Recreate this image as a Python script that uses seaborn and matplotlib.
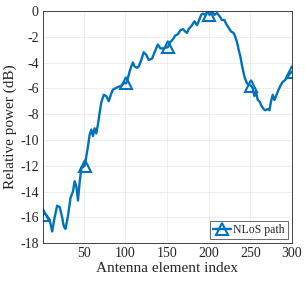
import numpy as np
import pandas as pd
import seaborn as sns
import matplotlib
matplotlib.use('Agg')
import matplotlib.pyplot as plt

# values (element index, relative power in dB)
element_index = [1, 3, 6, 9, 12, 15, 18, 21, 24, 26, 28, 31, 34, 37, 39, 41, 43, 45, 47, 49,
                 51, 53, 55, 57, 59, 61, 63, 65, 67, 69, 71, 74, 77, 80, 83, 85, 88, 91, 95, 98,
                 101, 103, 105, 107, 109, 111, 114, 116, 119, 122, 125, 128, 132, 135, 139, 142, 146,
                 151, 154, 157, 160, 163, 166, 169, 172, 174, 176, 180, 183, 186, 188, 191, 193, 196, 199,
                 201, 203, 205, 207, 210, 213, 216, 219, 221, 224, 227, 230, 232, 234, 236, 238, 240, 243,
                 246, 248, 251, 253, 255, 257, 259, 261, 263, 266, 268, 271, 273, 275, 277, 279, 281, 284,
                 287, 289, 292, 295, 297, 300]
power_db = [-15.8, -15.7, -15.9, -16.2, -17.1, -16.0, -15.1, -15.2, -16.0, -16.7, -16.9, -15.9, -14.5,
            -14.0, -13.2, -13.6, -14.7, -13.3, -12.2, -12.1,
            -12.0, -11.3, -10.5, -9.6, -9.2, -9.7, -9.1, -9.5, -8.8, -7.9, -7.1, -6.5, -6.6, -7.0, -6.4,
            -6.1, -6.0, -5.9, -5.8, -5.6,
            -5.6, -5.2, -4.7, -4.3, -4.0, -4.3, -4.4, -4.3, -3.8, -3.2, -3.4, -3.8, -3.7, -3.2, -2.6,
            -2.9, -2.9,
            -2.8, -2.4, -2.2, -1.9, -1.8, -1.5, -1.4, -1.6, -1.7, -1.4, -1.1, -0.8, -1.1, -0.8, -0.3,
            -0.2, -0.3, 0.0,
            -0.3, -0.2, -0.1, -0.3, -0.15, -0.4, -0.7, -0.7, -1.0, -1.3, -1.6, -1.7, -2.0, -2.4, -3.0,
            -3.5, -4.2, -5.1,
            -5.6, -5.7, -5.8, -6.0, -6.6, -6.3, -6.9, -7.0, -7.3, -7.6, -7.7, -7.6, -7.7, -7.0, -6.5,
            -6.9, -6.6, -6.1,
            -5.7, -5.5, -5.35, -5.1, -4.9, -4.7]
marker_index = [1, 51, 101, 151, 201, 251, 300]
x_ticks = [50, 100, 150, 200, 250, 300]
y_ticks = [0, -2, -4, -6, -8, -10, -12, -14, -16, -18]

df = pd.DataFrame({'idx': element_index, 'power': power_db})
mark_pos = [element_index.index(m) for m in marker_index]

sns.set_style('whitegrid')
plt.rcParams['font.family'] = ['Liberation Serif', 'DejaVu Serif']
plt.rcParams['axes.unicode_minus'] = False

fig = plt.figure(figsize=(3.05, 2.82), dpi=100)
ax = fig.add_axes([0.141, 0.138, 0.816, 0.823])

sns.lineplot(data=df, x='idx', y='power', ax=ax, color='#0072BD', linewidth=1.7,
             marker='^', markevery=mark_pos, markersize=8, markerfacecolor='none',
             markeredgecolor='#0072BD', markeredgewidth=1.5, label='NLoS path')

ax.set_xlim(1, 300)
ax.set_ylim(-18, 0)
ax.set_xticks(x_ticks)
ax.set_yticks(y_ticks)
ax.grid(True, color='#ebebeb', linewidth=0.6)
for s in ax.spines.values():
    s.set_color('#262626')
    s.set_linewidth(0.6)
ax.tick_params(direction='in', length=3, width=0.6, labelsize=10, colors='#262626', pad=3)
ax.set_xlabel('Antenna element index', fontsize=11, labelpad=1)
ax.set_ylabel('Relative power (dB)', fontsize=11, labelpad=2)

leg = ax.legend(loc='lower right', fontsize=8.5, frameon=True, fancybox=False,
                handlelength=1.5, handletextpad=0.2, borderpad=0.25, borderaxespad=0.35)
leg.get_frame().set_edgecolor('#262626')
leg.get_frame().set_linewidth(0.6)

fig.savefig('out.png', dpi=100)
